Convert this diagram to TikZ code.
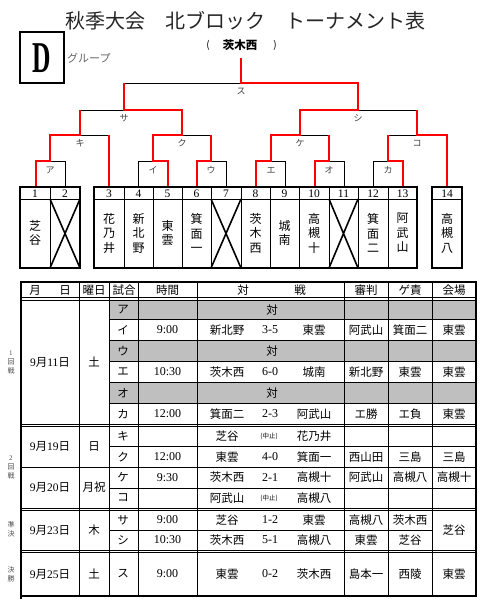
\documentclass[tikz,border=0pt]{standalone}
\usepackage{fontspec}
\setmainfont{Noto Sans CJK JP}
\newfontfamily\sn{Liberation Serif}
\usetikzlibrary{calc}

\begin{document}
\begin{tikzpicture}[x=1pt,y=-1pt,
  win/.style={red,line width=2.2pt},
  lose/.style={black,line width=0.9pt},
  kana/.style={font=\fontsize{9}{9}\selectfont,text=black!75,inner sep=0pt},
  num/.style={font=\sn\fontsize{11.5}{12}\selectfont,inner sep=0pt},
  team/.style={font=\fontsize{12}{14.5}\selectfont,align=center,inner sep=0pt},
  cell/.style={font=\fontsize{11.5}{12}\selectfont,inner sep=0pt},
  digit/.style={font=\sn\fontsize{12}{12}\selectfont,inner sep=0pt},
  tiny/.style={font=\fontsize{6.5}{7}\selectfont,inner sep=0pt},
  side/.style={font=\fontsize{7}{9}\selectfont,align=center,text=black!70,inner sep=0pt},
  rule/.style={line width=0.8pt},
  frame/.style={line width=1.8pt},
  cross/.style={line width=1.6pt}]
            \useasboundingbox (0,0) rectangle (490,608);
            % heading
            \node[font=\fontsize{20}{20}\selectfont,text=black!85] (title) at (245,21) {秋季大会　北ブロック　トーナメント表};
            \draw[line width=1.8pt] (20,32) rectangle (64,83);
            \node[font=\sn\bfseries\fontsize{44}{44}\selectfont,xscale=0.58] (grp) at (42,58) {D};
            \node[font=\fontsize{11}{11}\selectfont,text=black!60,anchor=west,inner sep=0pt] (grplbl) at (67,58) {グループ};
            \node[font=\fontsize{10}{10}\selectfont] (pl) at (208,45) {(};
            \node[font=\bfseries\fontsize{11.5}{12}\selectfont] (champ) at (240,45) {茨木西};
            \node[font=\fontsize{10}{10}\selectfont] (pr) at (275,45) {)};
            % bracket, losing halves
            \draw[lose] (50,161) -- (65,161) -- (65,187);
            \draw[lose] (138,187) -- (138,161) -- (153,161);
            \draw[lose] (211,161) -- (226,161) -- (226,187);
            \draw[lose] (271,161) -- (285,161) -- (285,187);
            \draw[lose] (329,161) -- (344,161) -- (344,187);
            \draw[lose] (373,187) -- (373,161) -- (388,161);
            \draw[lose] (80,135) -- (109,135);
            \draw[lose] (182,135) -- (211,135);
            \draw[lose] (300,135) -- (329,135);
            \draw[lose] (388,135) -- (417,135);
            \draw[lose] (80,110) -- (124,110);
            \draw[lose] (358,110) -- (417,110);
            \draw[lose] (124,83) -- (241,83);
            % bracket, winners' paths
            \draw[win] (36,187) -- (36,161) -- (50,161) -- (50,135) -- (80,135) -- (80,110);
            \draw[win] (109,187) -- (109,135);
            \draw[win] (168,187) -- (168,161) -- (153,161) -- (153,135) -- (182,135) -- (182,110) -- (124,110) -- (124,83);
            \draw[win] (197,187) -- (197,161) -- (211,161) -- (211,135);
            \draw[win] (256,187) -- (256,161) -- (271,161) -- (271,135) -- (300,135) -- (300,110) -- (358,110) -- (358,83) -- (241,83) -- (241,58);
            \draw[win] (315,187) -- (315,161) -- (329,161) -- (329,135);
            \draw[win] (403,187) -- (403,161) -- (388,161) -- (388,135);
            \draw[win] (447,187) -- (447,135) -- (417,135) -- (417,110);
            % match letters
            \node[kana] (mA) at (50,170) {ア};
            \node[kana] (mI) at (153,170) {イ};
            \node[kana] (mU) at (211,170) {ウ};
            \node[kana] (mE) at (271,170) {エ};
            \node[kana] (mO) at (329,170) {オ};
            \node[kana] (mKa) at (388,170) {カ};
            \node[kana] (mKi) at (80,143) {キ};
            \node[kana] (mKu) at (182,143) {ク};
            \node[kana] (mKe) at (300,143) {ケ};
            \node[kana] (mKo) at (417,143) {コ};
            \node[kana] (mSa) at (124,118) {サ};
            \node[kana] (mSi) at (358,118) {シ};
            \node[kana] (mSu) at (241,91) {ス};
            % entry boxes
            \draw[line width=1.4pt] (20,187) rectangle (80,268);
            \draw[line width=1.4pt] (94,187) rectangle (417,268);
            \draw[line width=1.4pt] (432,187) rectangle (462,268);
            \draw[rule] (20,199) -- (80,199) (94,199) -- (417,199) (432,199) -- (462,199);
            \foreach \x in {50,124,153,182,211,241,270,299,329,358,388}
              \draw[rule] (\x,187) -- (\x,268);
            \draw[cross] (50,199) -- (80,268) (50,268) -- (80,199);
            \draw[cross] (211,199) -- (241,268) (211,268) -- (241,199);
            \draw[cross] (329,199) -- (358,268) (329,268) -- (358,199);
            \foreach \n/\x in {1/35,2/65,3/109,4/138.5,5/167.5,6/196.5,7/226,8/255.5,9/284.5,10/314,11/343.5,12/373,13/402.5,14/447}
              \node[num] (no\n) at (\x,193.5) {\n};
            \foreach \n/\x/\t in {1/35/{芝\\谷},3/109/{花\\乃\\井},4/138.5/{新\\北\\野},5/167.5/{東\\雲},6/196.5/{箕\\面\\一},8/255.5/{茨\\木\\西},9/284.5/{城\\南},10/314/{高\\槻\\十},12/373/{箕\\面\\二},13/402.5/{阿\\武\\山},14/447/{高\\槻\\八}}
              \node[team] (tm\n) at (\x,233) {\t};
            % schedule table
            \fill[black!25] (109,300) rectangle (476,319.5);
            \fill[black!25] (109,340.5) rectangle (476,361.5);
            \fill[black!25] (109,382.5) rectangle (476,403.5);
            \foreach \y in {319.5,340.5,361.5,382.5,403.5,446.5,488}
              \draw[rule] (109,\y) -- (476,\y);
            \draw[rule] (21,467) -- (476,467);
            \draw[rule] (109,530) -- (432,530);
            \foreach \y in {297.5,300,424,426.5,508,510.5,550,552.5}
              \draw[rule] (21,\y) -- (476,\y);
            \foreach \x in {79,109,138,197,344,388,432}
              \draw[rule] (\x,282) -- (\x,596);
            \draw[frame] (21,282) -- (476,282) -- (476,596) -- (21,596) -- cycle;
            \draw[frame] (21,596) -- (21,599);
            % header
            \node[cell] (hM) at (35,290) {月};
            \node[cell] (hD) at (65,290) {日};
            \node[cell] (hW) at (94,290) {曜日};
            \node[cell] (hG) at (124,290) {試合};
            \node[cell] (hT) at (167.5,290) {時間};
            \node[cell] (hV1) at (243,290) {対};
            \node[cell] (hV2) at (300,290) {戦};
            \node[cell] (hJ) at (366,290) {審判};
            \node[cell] (hB) at (410,290) {ゲ責};
            \node[cell] (hP) at (454,290) {会場};
            % rounds
            \node[side] (rd1) at (11,362) {\sn 1\\回\\戦};
            \node[side] (rd2) at (11,467) {\sn 2\\回\\戦};
            \node[side] (rd3) at (11,529) {準\\決};
            \node[side] (rd4) at (11,574) {決\\勝};
            \node[cell] (d1) at (50,362) {{\sn 9}月{\sn 11}日};
            \node[cell] (w1) at (94,362) {土};
            \node[cell] (d2) at (50,446.5) {{\sn 9}月{\sn 19}日};
            \node[cell] (w2) at (94,446.5) {日};
            \node[cell] (d3) at (50,487.5) {{\sn 9}月{\sn 20}日};
            \node[cell] (w3) at (94,487.5) {月祝};
            \node[cell] (d4) at (50,530) {{\sn 9}月{\sn 23}日};
            \node[cell] (w4) at (94,530) {木};
            \node[cell] (d5) at (50,574) {{\sn 9}月{\sn 25}日};
            \node[cell] (w5) at (94,574) {土};
            % empty matches
            \foreach \i/\y/\k in {a/310/ア,u/351/ウ,o/393/オ}{
              \node[cell] (g\i) at (123,\y) {\k};
              \node[cell] (v\i) at (272,\y) {対};
            }
            % played matches
            \foreach \i/\y/\k/\t/\l/\s/\r/\j/\b/\p in {
                i/330/イ/9:00/新北野/3-5/東雲/阿武山/箕面二/東雲,
                e/372/エ/10:30/茨木西/6-0/城南/新北野/東雲/東雲,
                ka/414/カ/12:00/箕面二/2-3/阿武山/エ勝/エ負/東雲,
                ki/436.5/キ//芝谷//花乃井///,
                ku/457/ク/12:00/東雲/4-0/箕面一/西山田/三島/三島,
                ke/477.5/ケ/9:30/茨木西/2-1/高槻十/阿武山/高槻八/高槻十,
                ko/498/コ//阿武山//高槻八///,
                sa/520/サ/9:00/芝谷/1-2/東雲/高槻八/茨木西/,
                si/540/シ/10:30/茨木西/5-1/高槻八/東雲/芝谷/,
                su/574/ス/9:00/東雲/0-2/茨木西/島本一/西陵/東雲}{
              \node[cell] (g\i) at (123,\y) {\k};
              \node[digit] (t\i) at (167.5,\y) {\t};
              \node[cell] (l\i) at (227,\y) {\l};
              \node[digit] (s\i) at (270,\y) {\s};
              \node[cell] (r\i) at (314,\y) {\r};
              \node[cell] (j\i) at (366,\y) {\j};
              \node[cell] (b\i) at (410,\y) {\b};
              \node[cell] (p\i) at (454,\y) {\p};
            }
            \node[tiny] (cki) at (269,436.5) {(中止)};
            \node[tiny] (cko) at (269,498) {(中止)};
            \node[cell] (psa) at (454,530) {芝谷};
        \end{tikzpicture}
\end{document}
